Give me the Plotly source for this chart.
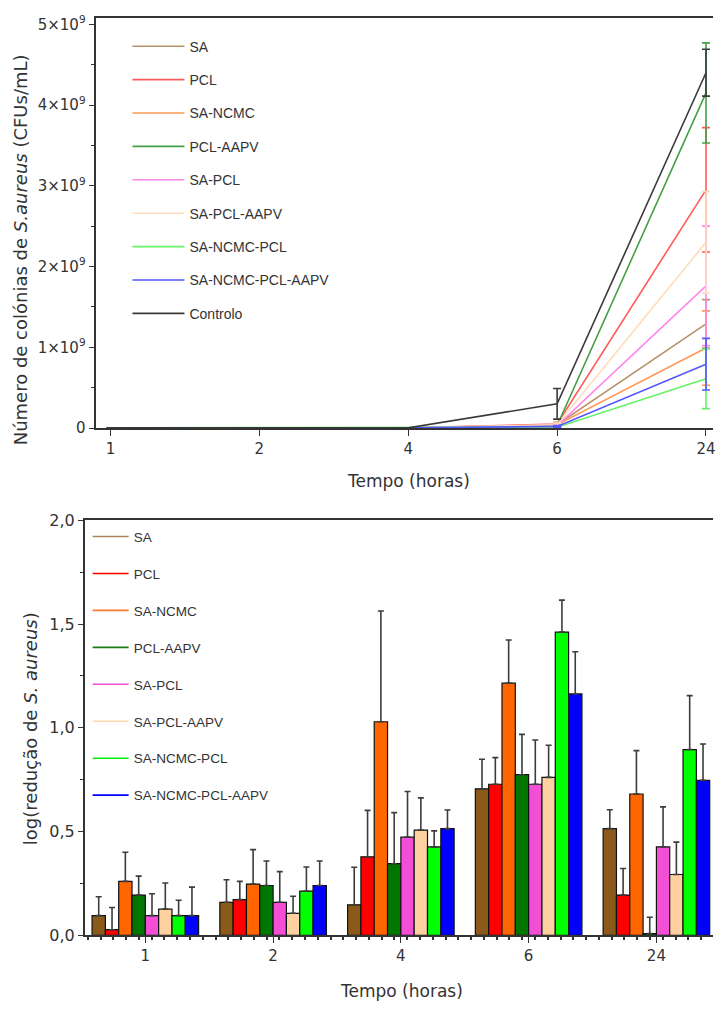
import plotly.graph_objects as go

# ---------------- data ----------------
tempos = ["1", "2", "4", "6", "24"]

series = ["SA", "PCL", "SA-NCMC", "PCL-AAPV", "SA-PCL", "SA-PCL-AAPV",
          "SA-NCMC-PCL", "SA-NCMC-PCL-AAPV"]

# Colony counts (CFU/mL) over time
ufc_sa = [2e6, 2e6, 2e6, 0.04e9, 1.29e9]
ufc_pcl = [2e6, 2e6, 2e6, 0.05e9, 2.95e9]
ufc_sa_ncmc = [2e6, 2e6, 2e6, 0.04e9, 0.99e9]
ufc_pcl_aapv = [2e6, 2e6, 2e6, 0.03e9, 4.15e9]
ufc_sa_pcl = [2e6, 2e6, 2e6, 0.03e9, 1.76e9]
ufc_sa_pcl_aapv = [2e6, 2e6, 2e6, 0.04e9, 2.30e9]
ufc_sa_ncmc_pcl = [2e6, 2e6, 2e6, 0.01e9, 0.61e9]
ufc_sa_ncmc_pcl_aapv = [2e6, 2e6, 2e6, 0.02e9, 0.79e9]
ufc_controlo = [2e6, 2e6, 2e6, 0.30e9, 4.40e9]

dp_sa = [0, 0, 0, 0.02e9, 0.30e9]
dp_pcl = [0, 0, 0, 0.02e9, 0.77e9]
dp_sa_ncmc = [0, 0, 0, 0.02e9, 0.46e9]
dp_pcl_aapv = [0, 0, 0, 0.02e9, 0.62e9]
dp_sa_pcl = [0, 0, 0, 0.02e9, 0.74e9]
dp_sa_pcl_aapv = [0, 0, 0, 0.02e9, 0.63e9]
dp_sa_ncmc_pcl = [0, 0, 0, 0.01e9, 0.37e9]
dp_sa_ncmc_pcl_aapv = [0, 0, 0, 0.01e9, 0.32e9]
dp_controlo = [0, 0, 0, 0.19e9, 0.29e9]

# log reduction of S. aureus
red_sa = [0.095, 0.159, 0.147, 0.706, 0.514]
red_pcl = [0.027, 0.172, 0.378, 0.728, 0.194]
red_sa_ncmc = [0.260, 0.247, 1.029, 1.215, 0.681]
red_pcl_aapv = [0.194, 0.240, 0.345, 0.774, 0.008]
red_sa_pcl = [0.095, 0.159, 0.473, 0.728, 0.426]
red_sa_pcl_aapv = [0.126, 0.106, 0.507, 0.761, 0.293]
red_sa_ncmc_pcl = [0.095, 0.213, 0.426, 1.461, 0.895]
red_sa_ncmc_pcl_aapv = [0.095, 0.240, 0.514, 1.163, 0.747]

err_sa = [0.091, 0.109, 0.181, 0.142, 0.091]
err_pcl = [0.107, 0.088, 0.224, 0.128, 0.128]
err_sa_ncmc = [0.140, 0.166, 0.534, 0.208, 0.209]
err_pcl_aapv = [0.091, 0.118, 0.246, 0.194, 0.079]
err_sa_pcl = [0.105, 0.148, 0.220, 0.213, 0.193]
err_sa_pcl_aapv = [0.126, 0.082, 0.155, 0.155, 0.156]
err_sa_ncmc_pcl = [0.074, 0.116, 0.077, 0.154, 0.260]
err_sa_ncmc_pcl_aapv = [0.137, 0.118, 0.090, 0.203, 0.175]

ufc = [ufc_sa, ufc_pcl, ufc_sa_ncmc, ufc_pcl_aapv, ufc_sa_pcl,
       ufc_sa_pcl_aapv, ufc_sa_ncmc_pcl, ufc_sa_ncmc_pcl_aapv]
dp = [dp_sa, dp_pcl, dp_sa_ncmc, dp_pcl_aapv, dp_sa_pcl,
      dp_sa_pcl_aapv, dp_sa_ncmc_pcl, dp_sa_ncmc_pcl_aapv]
red = [red_sa, red_pcl, red_sa_ncmc, red_pcl_aapv, red_sa_pcl,
       red_sa_pcl_aapv, red_sa_ncmc_pcl, red_sa_ncmc_pcl_aapv]
err = [err_sa, err_pcl, err_sa_ncmc, err_pcl_aapv, err_sa_pcl,
       err_sa_pcl_aapv, err_sa_ncmc_pcl, err_sa_ncmc_pcl_aapv]

y1_ticks = [0, 1e9, 2e9, 3e9, 4e9, 5e9]
y1_ticktext = ["0", "1×10<sup>9</sup>", "2×10<sup>9</sup>", "3×10<sup>9</sup>",
               "4×10<sup>9</sup>", "5×10<sup>9</sup>"]

# ---------------- styles ----------------
line_colors = ["#b5926b", "#ff5a5a", "#ff9955", "#44a044", "#ff88ee",
               "#ffdcbc", "#66f266", "#5555ff"]
controlo_color = "#3a3a3a"
bar_colors = ["#8b5a1a", "#ff0000", "#ff6600", "#007800", "#f24fd6",
              "#ffd0a0", "#00ff00", "#0000ff"]
legend2_colors = ["#a8865a", "#ff0000", "#ff7a30", "#1a7a1a", "#f24fd6",
                  "#ffd8b0", "#00ee00", "#0000ff"]

W, H = 716, 1014
FONT = "DejaVu Sans, Liberation Sans, sans-serif"
LFONT = "Liberation Sans, Arial, sans-serif"
TXT = "#333333"

pos = list(range(len(tempos)))

fig = go.Figure()

# --- top panel: colony counts ---
for name, ys, es, c in zip(series, ufc, dp, line_colors):
    fig.add_trace(go.Scatter(
        x=pos, y=ys, mode="lines", name=name, legendgroup=name,
        line=dict(color=c, width=1.6),
        error_y=dict(type="data", array=es, visible=True, color=c,
                     thickness=1.6, width=4),
        xaxis="x", yaxis="y", legend="legend"))
fig.add_trace(go.Scatter(
    x=pos, y=ufc_controlo, mode="lines", name="Controlo", legendgroup="Controlo",
    line=dict(color=controlo_color, width=1.6),
    error_y=dict(type="data", array=dp_controlo, visible=True,
                 color=controlo_color, thickness=1.6, width=4),
    xaxis="x", yaxis="y", legend="legend"))

# --- bottom panel: log reduction bars ---
for name, ys, es, c in zip(series, red, err, bar_colors):
    fig.add_trace(go.Bar(
        x=pos, y=ys, name=name, showlegend=False,
        marker=dict(color=c, line=dict(color="#111111", width=1.2)),
        error_y=dict(type="data", symmetric=False, array=es,
                     arrayminus=[0] * len(es), visible=True,
                     color="#3c3c3c", thickness=1.6, width=3),
        xaxis="x2", yaxis="y2"))
# line-style legend entries for the bars
for name, c in zip(series, legend2_colors):
    fig.add_trace(go.Scatter(
        x=[None], y=[None], mode="lines", name=name, legendgroup="b" + name,
        line=dict(color=c, width=1.6), xaxis="x2", yaxis="y2",
        legend="legend2"))

# ---------------- layout ----------------
top_dom = [1 - 427 / H, 1 - 9 / H]
bot_dom = [1 - 944 / H, 1 - 521 / H]

axis_common = dict(showgrid=False, zeroline=False, linecolor="#333333",
                   ticks="outside", tickcolor="#333333")


def title(text, x, y, angle=0, size=17):
    return dict(text=text, xref="paper", yref="paper", x=x / W, y=1 - y / H,
                xanchor="center", yanchor="middle", textangle=angle,
                showarrow=False, font=dict(family=FONT, size=size, color=TXT))


fig.update_layout(
    width=W, height=H,
    margin=dict(l=0, r=0, t=0, b=0),
    paper_bgcolor="white", plot_bgcolor="white",
    separators=",.",
    barmode="group", bargap=0.166, bargroupgap=0,
    font=dict(family=FONT, color=TXT),
    xaxis=dict(**axis_common, domain=[96 / W, 1], anchor="y",
               range=[-0.1, 4.047], tickvals=pos, ticktext=tempos,
               tickfont=dict(family=FONT, size=15, color=TXT),
               ticklabeloverflow="allow",
               linewidth=2, ticklen=6, mirror=True),
    yaxis=dict(**axis_common, domain=top_dom, anchor="x",
               range=[0, 5.08e9], tickvals=y1_ticks, ticktext=y1_ticktext,
               tickfont=dict(family=FONT, size=15, color=TXT),
               linewidth=2, ticklen=5,
               minor=dict(dtick=0.5e9, ticks="outside", ticklen=3,
                          tickcolor="#333333")),
    xaxis2=dict(**axis_common, domain=[85 / W, 1], anchor="y2",
                range=[-0.475, 4.443], tickvals=pos, ticktext=tempos,
                tickfont=dict(family=FONT, size=15, color=TXT),
                ticklabeloverflow="allow",
                linewidth=1.5, ticklen=6, mirror=True,
                minor=dict(dtick=0.1, tick0=0.05, ticks="outside",
                           ticklen=3, tickwidth=2, tickcolor="#333333")),
    yaxis2=dict(**axis_common, domain=bot_dom, anchor="x2",
                range=[0, 2.0], dtick=0.5, tickformat=".1f",
                tickfont=dict(family=FONT, size=16, color=TXT),
                linewidth=1.5, ticklen=5,
                minor=dict(dtick=0.25, ticks="outside", ticklen=3,
                           tickcolor="#333333")),
    legend=dict(x=128 / W, y=1 - 22 / H, xanchor="left", yanchor="top",
                bgcolor="rgba(0,0,0,0)", borderwidth=0,
                font=dict(family=LFONT, size=14, color=TXT),
                tracegroupgap=12.2, itemwidth=52),
    legend2=dict(x=88 / W, y=1 - 522 / H, xanchor="left", yanchor="top",
                 bgcolor="rgba(0,0,0,0)", borderwidth=0,
                 font=dict(family=LFONT, size=13.5, color=TXT),
                 tracegroupgap=16.4, itemwidth=36),
    annotations=[
        title("Número de colónias de <i>S.aureus</i> (CFUs/mL)", 20, 245,
              angle=-90, size=18),
        title("Tempo (horas)", 410, 481),
        title("log(redução de <i>S. aureus</i>)", 30, 733, angle=-90, size=18),
        title("Tempo (horas)", 403, 1001),
    ],
)

fig.write_html("out.html")
